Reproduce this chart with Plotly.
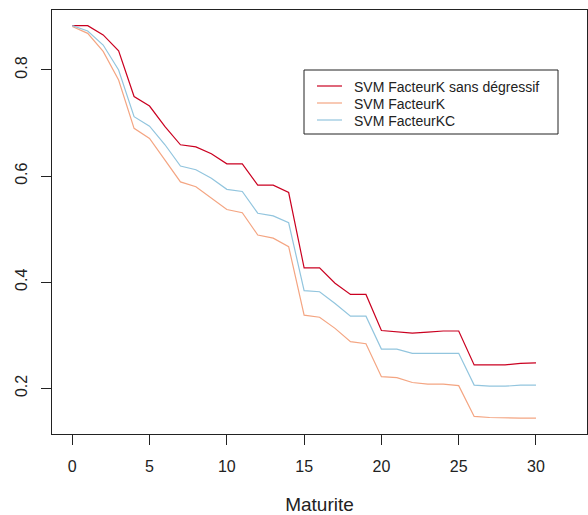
import plotly.graph_objects as go

maturite = list(range(31))

svm_k_sans_degressif = [0.8835, 0.8835, 0.866, 0.836, 0.750, 0.732, 0.693, 0.659, 0.655, 0.642,
                        0.623, 0.623, 0.583, 0.583, 0.569, 0.427, 0.427, 0.398, 0.377, 0.377,
                        0.309, 0.307, 0.304, 0.306, 0.308, 0.308, 0.244, 0.244, 0.244, 0.247,
                        0.248]
svm_k = [0.882, 0.869, 0.835, 0.781, 0.690, 0.671, 0.630, 0.589, 0.580, 0.558,
         0.537, 0.531, 0.489, 0.483, 0.467, 0.338, 0.334, 0.313, 0.288, 0.284,
         0.222, 0.220, 0.211, 0.208, 0.208, 0.205, 0.147, 0.145, 0.144, 0.144,
         0.144]
svm_kc = [0.8835, 0.8735, 0.847, 0.800, 0.712, 0.694, 0.659, 0.619, 0.612, 0.596,
          0.575, 0.571, 0.530, 0.525, 0.512, 0.384, 0.382, 0.360, 0.336, 0.336,
          0.274, 0.274, 0.266, 0.266, 0.266, 0.266, 0.206, 0.204, 0.204, 0.206,
          0.206]

series_names = ["SVM FacteurK sans dégressif", "SVM FacteurK", "SVM FacteurKC"]
series_colors = ["#CA0020", "#F4A582", "#92C5DE"]
x_ticks = [0, 5, 10, 15, 20, 25, 30]
y_ticks = [0.2, 0.4, 0.6, 0.8]

fig = go.Figure()
for name, vals, col in zip(series_names, [svm_k_sans_degressif, svm_k, svm_kc], series_colors):
    fig.add_trace(go.Scatter(x=maturite, y=vals, mode="lines", name=name,
                             line=dict(color=col, width=1.2), showlegend=False))

# R-style legend box (drawn in paper coordinates)
W, H = 588, 515
L, R, T, B = 52, 1, 10, 81
pw, ph = W - L - R, H - T - B


def px(xp):
    return (xp - L) / pw


def py(yp):
    return (H - B - yp) / ph


fig.add_shape(type="rect", xref="paper", yref="paper",
              x0=px(304), x1=px(558), y0=py(134), y1=py(70),
              line=dict(color="#222222", width=1), fillcolor="white", layer="above")
row_y = [86, 103, 120]
for name, col, ry in zip(series_names, series_colors, row_y):
    fig.add_shape(type="line", xref="paper", yref="paper",
                  x0=px(317), x1=px(342), y0=py(ry), y1=py(ry),
                  line=dict(color=col, width=1.2), layer="above")
    fig.add_annotation(xref="paper", yref="paper", x=px(352), y=py(ry + 1),
                       xanchor="left", yanchor="middle", text=name, showarrow=False,
                       font=dict(size=14, color="#222222"))

font_family = "Liberation Sans, Arial, sans-serif"
fig.update_layout(
    width=W, height=H,
    margin=dict(l=L, r=R, t=T, b=B),
    paper_bgcolor="white", plot_bgcolor="white",
    font=dict(family=font_family, size=16, color="#222222"),
    showlegend=False,
    xaxis=dict(range=[-1.31, 33.3], tickvals=x_ticks, ticktext=[str(v) for v in x_ticks],
               showgrid=False, zeroline=False, showline=True, mirror=True,
               linecolor="#222222", linewidth=1, ticks="outside", ticklen=10,
               tickcolor="#222222", ticklabelstandoff=8, automargin=False,
               title=dict(text="Maturite", standoff=24)),
    yaxis=dict(range=[0.1139, 0.913], tickvals=y_ticks, ticktext=[str(v) for v in y_ticks],
               showgrid=False, zeroline=False, showline=True, mirror=True,
               linecolor="#222222", linewidth=1, ticks="outside", ticklen=10,
               tickcolor="#222222", tickangle=-90, ticklabelstandoff=8, automargin=False),
)

fig.write_html("out.html", config={"displayModeBar": False},
               post_script="document.body.style.margin='0';document.body.style.overflow='hidden';")
